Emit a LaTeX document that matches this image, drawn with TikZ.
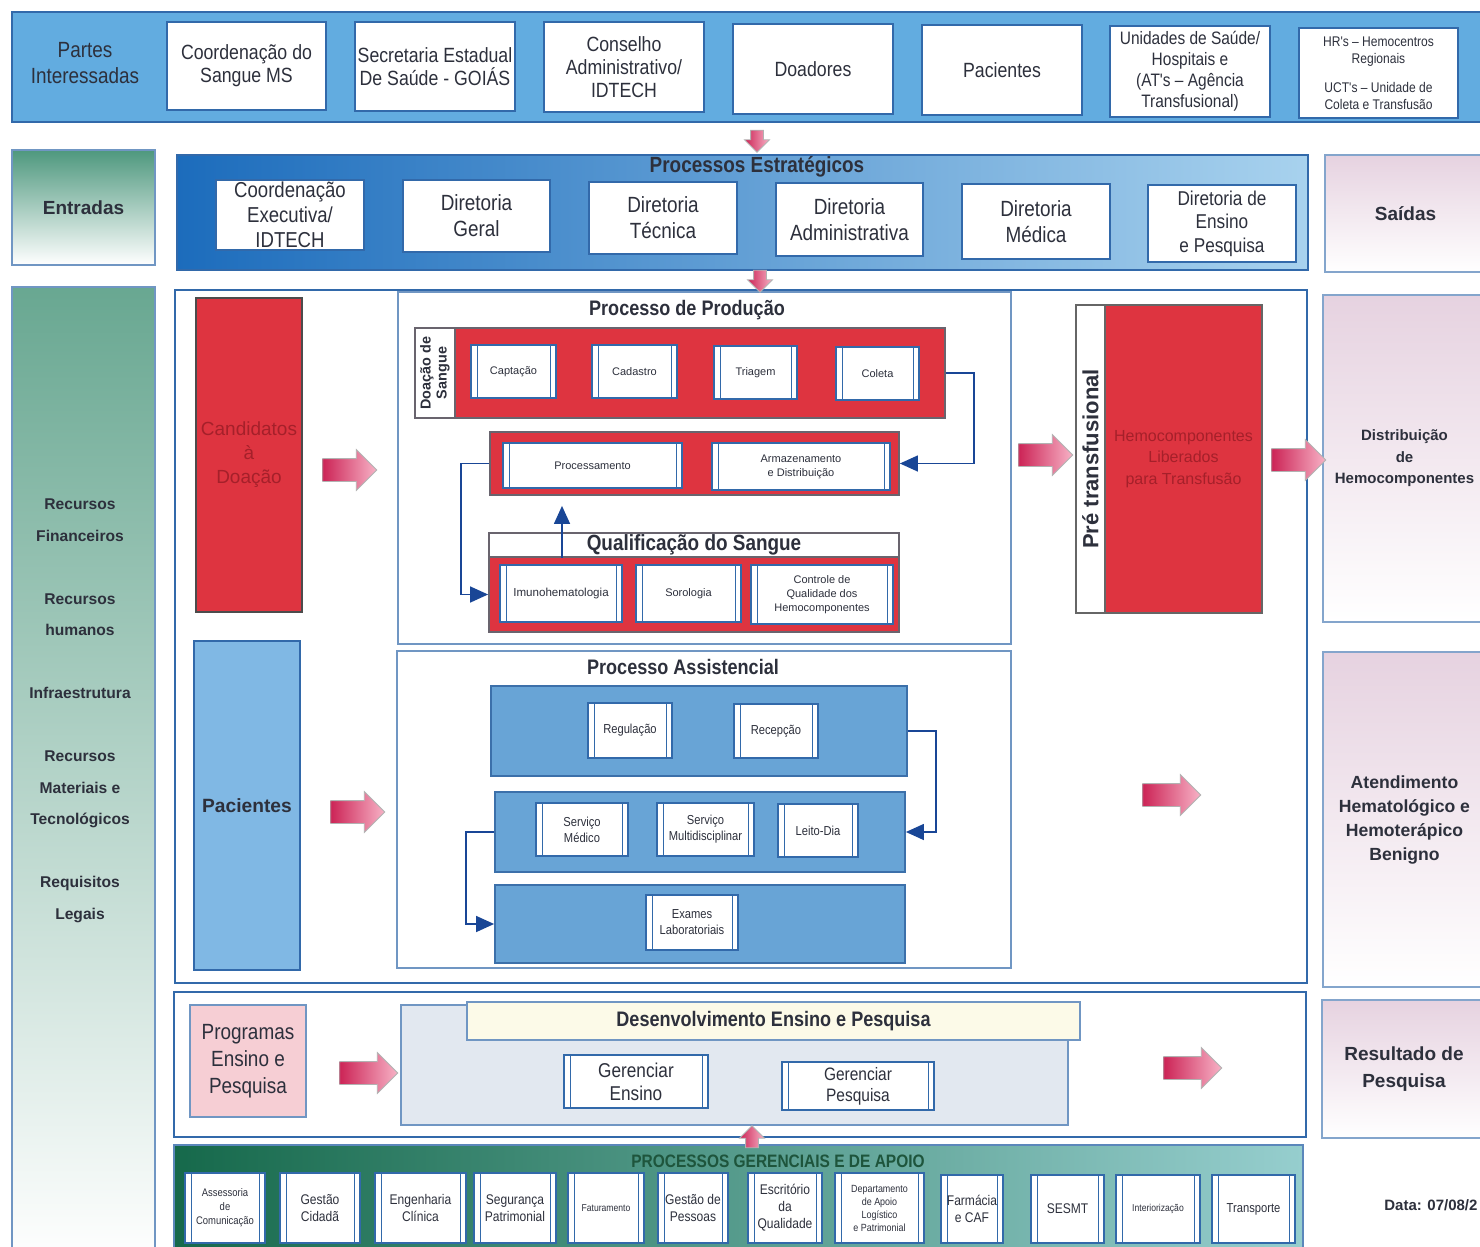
\documentclass[tikz,border=0pt]{standalone}
\usepackage{fontspec}
\setmainfont{Liberation Sans}
\newfontfamily\narrowfont[FakeStretch=0.86]{Liberation Sans}
\usepackage{xcolor}
\usepackage{tikz}
\usetikzlibrary{shapes,arrows,arrows.meta,positioning}

\definecolor{inktext}{RGB}{45,48,60}
\definecolor{edgeblue}{RGB}{50,105,170}
\definecolor{bandblue}{RGB}{98,172,224}
\definecolor{stratdark}{RGB}{28,108,188}
\definecolor{stratlight}{RGB}{168,210,238}
\definecolor{redfill}{RGB}{222,52,64}
\definecolor{redtext}{RGB}{165,32,42}
\definecolor{rededge}{RGB}{105,100,110}
\definecolor{bluefill}{RGB}{104,164,214}
\definecolor{blueedge}{RGB}{60,112,170}
\definecolor{patfill}{RGB}{128,184,228}
\definecolor{pinkdark}{RGB}{204,36,86}
\definecolor{pinklight}{RGB}{247,178,198}
\definecolor{entgreen}{RGB}{78,152,126}
\definecolor{outlav}{RGB}{230,210,224}
\definecolor{progpink}{RGB}{246,206,212}
\definecolor{devgray}{RGB}{226,232,240}
\definecolor{devcream}{RGB}{252,250,232}
\definecolor{mgmtdark}{RGB}{22,105,75}
\definecolor{mgmtlight}{RGB}{150,206,206}
\definecolor{mgmttext}{RGB}{30,85,60}
\definecolor{flowblue}{RGB}{25,70,150}

\newcommand{\setfs}[2]{\fontsize{#1}{#2}\selectfont}

\begin{document}
\begin{tikzpicture}[
        x=0.5pt, y=-0.5pt,
        every node/.style={inner sep=0pt, text=inktext},
        boxspan/.style args={#1/#2/#3/#4}{minimum width={(#3-#1)*0.5pt}, minimum height={(#4-#2)*0.5pt},
            at={({(#1+#3)/2},{(#2+#4)/2})}},
        band/.style={draw=edgeblue, line width=0.9pt},
        stakebox/.style={draw=edgeblue, line width=0.8pt, fill=white, align=center,
            font=\narrowfont\setfs{10.3}{11.5}},
        stratbox/.style={stakebox, font=\narrowfont\setfs{11}{13}},
        headline/.style={font=\narrowfont\bfseries\setfs{10.5}{12}},
        sidetext/.style={align=center, font=\bfseries\setfs{9.5}{11}},
        outbox/.style={draw=edgeblue!60, line width=0.8pt, top color=outlav, bottom color=white, align=center},
        procbox/.style={draw=edgeblue, line width=0.6pt, fill=white, align=center, font=\setfs{5.5}{7},
            path picture={\draw[edgeblue, line width=0.5pt]
                ([xshift=3pt]path picture bounding box.north west) -- ([xshift=3pt]path picture bounding box.south west)
                ([xshift=-3pt]path picture bounding box.north east) -- ([xshift=-3pt]path picture bounding box.south east);}},
        apoiobox/.style={procbox, font=\narrowfont\setfs{7}{8.5}},
        redband/.style={draw=rededge, line width=0.9pt, fill=redfill},
        blueband/.style={draw=blueedge, line width=0.9pt, fill=bluefill},
        flow/.style={draw=flowblue, line width=0.7pt, -{Triangle[length=9pt,width=8pt]}},
        pinkarrow/.style={single arrow, draw=gray!60, line width=0.4pt, left color=pinkdark, right color=pinklight,
            minimum height=27pt, inner xsep=0pt, inner ysep=5.5pt, single arrow head extend=4.5pt},
        smallarrow/.style={pinkarrow, minimum height=11pt, inner ysep=3pt, single arrow head extend=3pt}]

    \useasboundingbox (0,0) rectangle (1480,1247);
    \clip (0,0) rectangle (1480,1247);
    \fill[white] (0,0) rectangle (1480,1247);

    % partes interessadas
    \node[band, fill=bandblue, boxspan=12/12/1495/122] (partes) {};
    \node[align=center, font=\narrowfont\setfs{11}{13}] (partesT) at (85,63) {Partes\\Interessadas};
    \node[stakebox, boxspan=167/22/326/110] (coordMS) {Coordenação do\\Sangue MS};
    \node[stakebox, boxspan=355/22/515/111] (secGO) {Secretaria Estadual\\De Saúde - GOIÁS};
    \node[stakebox, boxspan=544/22/704/112] (conselho) {Conselho\\Administrativo/\\IDTECH};
    \node[stakebox, boxspan=733/24/893/114] (doadores) {Doadores};
    \node[stakebox, boxspan=922/25/1082/115] (pacP) {Pacientes};
    \node[stakebox, font=\narrowfont\setfs{9}{10.5}, boxspan=1110/26/1270/117] (unidades) {Unidades de Saúde/\\Hospitais e\\(AT's – Agência\\Transfusional)};
    \node[stakebox, font=\narrowfont\setfs{7}{8.5}, boxspan=1299/28/1458/118] (hrs) {HR's – Hemocentros\\Regionais\\[6pt]UCT's – Unidade de\\Coleta e Transfusão};

    % entradas / saidas
    \node[sidetext, draw=edgeblue!70, line width=0.8pt, top color=entgreen, bottom color=white, boxspan=12/150/155/265] (entradas) {Entradas};
    \node[outbox, sidetext, boxspan=1325/155/1486/272] (saidas) {Saídas};

    % processos estrategicos
    \node[band, left color=stratdark, right color=stratlight, boxspan=177/155/1308/270] (estrat) {};
    \node[headline, font=\narrowfont\bfseries\setfs{11}{13}] (estratT) at (757,167) {Processos Estratégicos};
    \node[stratbox, font=\narrowfont\setfs{10.8}{12.5}, boxspan=216/180/364/250] (coordEx) {Coordenação\\Executiva/\\IDTECH};
    \node[stratbox, boxspan=403/180/550/252] (dirGeral) {Diretoria\\Geral};
    \node[stratbox, boxspan=589/182/737/254] (dirTec) {Diretoria\\Técnica};
    \node[stratbox, boxspan=776/183/923/256] (dirAdm) {Diretoria\\Administrativa};
    \node[stratbox, boxspan=962/184/1110/259] (dirMed) {Diretoria\\Médica};
    \node[stratbox, font=\narrowfont\setfs{10}{11.75}, boxspan=1148/185/1296/262] (dirEns) {Diretoria de\\Ensino\\e Pesquisa};

    % recursos
    \node[draw=edgeblue!70, line width=0.8pt, top color=entgreen!85, middle color=entgreen!25, bottom color=white, boxspan=12/287/155/1265] (recursos) {};
    \node[align=center, font=\bfseries\setfs{7.8}{15.75}] (recursosT) at (80,711) {Recursos\\Financeiros\\[15.75pt]Recursos\\humanos\\[15.75pt]Infraestrutura\\[15.75pt]Recursos\\Materiais e\\Tecnológicos\\[15.75pt]Requisitos\\Legais};

    % nucleo
    \node[band, fill=white, boxspan=175/290/1307/983] (core) {};
    \node[redband, draw=black!70, boxspan=196/298/302/612, text=redtext, align=center, font=\setfs{9.5}{12}] (cand) {Candidatos\\à\\Doação};
    \node[draw=edgeblue, line width=0.8pt, fill=patfill, boxspan=194/641/300/970, font=\bfseries\setfs{9.6}{11}] (pac) {Pacientes};

    % producao
    \node[draw=edgeblue!70, line width=0.8pt, fill=white, boxspan=398/292/1011/644] (prod) {};
    \node[headline] (prodT) at (687,310) {Processo de Produção};
    \node[redband, boxspan=415/328/945/418] (doacao) {};
    \node[draw=rededge, line width=0.8pt, fill=white, boxspan=415/328/455/418] (doacaoStrip) {};
    \node[rotate=90, align=center, font=\bfseries\setfs{7.2}{8}] at (doacaoStrip.center) {Doação de\\Sangue};
    \node[procbox, boxspan=471/345/556/398] (captacao) {Captação};
    \node[procbox, boxspan=592/345/677/398] (cadastro) {Cadastro};
    \node[procbox, boxspan=714/346/797/399] (triagem) {Triagem};
    \node[procbox, boxspan=836/347/919/400] (coleta) {Coleta};
    \node[redband, boxspan=490/432/899/495] (prodB) {};
    \node[procbox, boxspan=503/443/682/488] (processamento) {Processamento};
    \node[procbox, boxspan=712/443/890/490] (armaz) {Armazenamento\\e Distribuição};
    \node[draw=rededge, line width=0.8pt, fill=white, boxspan=489/533/899/557, font=\narrowfont\bfseries\setfs{11}{12}] (qualT) {Qualificação do Sangue};
    \node[redband, boxspan=489/557/899/632] (qualB) {};
    \node[procbox, font=\setfs{5.8}{7}, boxspan=500/565/622/622] (imuno) {Imunohematologia};
    \node[procbox, boxspan=636/565/741/622] (sorologia) {Sorologia};
    \node[procbox, boxspan=751/565/893/624] (controle) {Controle de\\Qualidade dos\\Hemocomponentes};

    \draw[flow] (doacao.east) -- ++(28,0) |- (prodB.east);
    \draw[flow] (prodB.west) -- ++(-28,0) |- (qualB.west);
    \coordinate (upx) at (562,0);
    \draw[flow, shorten >=5pt] (qualT.south -| upx) -- (prodB.south -| upx);

    % assistencial
    \node[draw=edgeblue!70, line width=0.8pt, fill=white, boxspan=397/651/1011/968] (asst) {};
    \node[headline] (asstT) at (683,667) {Processo Assistencial};
    \node[blueband, boxspan=491/686/907/776] (asstA) {};
    \node[procbox, font=\narrowfont\setfs{6.5}{8}, boxspan=588/703/672/758] (regulacao) {Regulação};
    \node[procbox, font=\narrowfont\setfs{6.5}{8}, boxspan=734/704/818/758] (recepcao) {Recepção};
    \node[blueband, boxspan=495/792/905/872] (asstB) {};
    \node[procbox, font=\narrowfont\setfs{6.5}{8}, boxspan=536/803/628/856] (servMed) {Serviço\\Médico};
    \node[procbox, font=\narrowfont\setfs{6.5}{8}, boxspan=657/803/754/856] (servMult) {Serviço\\Multidisciplinar};
    \node[procbox, font=\narrowfont\setfs{6.5}{8}, boxspan=778/804/858/857] (leito) {Leito-Dia};
    \node[blueband, boxspan=495/885/905/963] (asstC) {};
    \node[procbox, font=\narrowfont\setfs{6.5}{8}, boxspan=646/895/738/950] (exames) {Exames\\Laboratoriais};

    \draw[flow] (asstA.east) -- ++(28,0) |- (asstB.east);
    \draw[flow] (asstB.west) -- ++(-28,0) |- (asstC.west);

    % pre transfusional
    \node[draw=black!60, line width=0.8pt, fill=white, boxspan=1076/305/1105/613] (preStrip) {};
    \node[redband, draw=black!60, boxspan=1105/305/1262/613, text=redtext, align=center, font=\setfs{8}{10.75}] (liberados) {Hemocomponentes\\Liberados\\para Transfusão};
    \node[rotate=90, font=\bfseries\setfs{11}{13}] (preT) at (preStrip.center) {Pré transfusional};

    % saidas
    \node[outbox, font=\bfseries\setfs{7.5}{10.75}, boxspan=1323/295/1486/622] (distrib) {Distribuição\\de\\Hemocomponentes};
    \node[outbox, font=\bfseries\setfs{8.8}{12}, boxspan=1323/652/1486/987] (atend) {Atendimento\\Hematológico e\\Hemoterápico\\Benigno};
    \node[outbox, font=\bfseries\setfs{9.5}{13.5}, boxspan=1322/1000/1486/1138] (resultado) {Resultado de\\Pesquisa};

    % ensino e pesquisa
    \node[band, fill=white, boxspan=174/992/1306/1137] (ensino) {};
    \node[draw=edgeblue!70, line width=0.8pt, fill=progpink, boxspan=190/1005/306/1117, align=center, font=\narrowfont\setfs{11}{13.5}] (programas) {Programas\\Ensino e\\Pesquisa};
    \node[draw=edgeblue!70, line width=0.8pt, fill=devgray, boxspan=401/1005/1068/1125] (devBox) {};
    \node[draw=edgeblue!70, line width=0.8pt, fill=devcream, boxspan=467/1002/1080/1040, headline] (devT) {Desenvolvimento Ensino e Pesquisa};
    \node[procbox, font=\narrowfont\setfs{10}{11.5}, boxspan=564/1055/708/1108] (gerEnsino) {Gerenciar\\Ensino};
    \node[procbox, font=\narrowfont\setfs{9}{10.5}, boxspan=782/1062/934/1110] (gerPesquisa) {Gerenciar\\Pesquisa};

    % processos gerenciais e de apoio
    \node[band, draw=edgeblue!80, left color=mgmtdark, right color=mgmtlight, boxspan=174/1145/1303/1265] (apoio) {};
    \node[font=\narrowfont\bfseries\setfs{9}{10}, text=mgmttext] (apoioT) at (778,1161) {PROCESSOS GERENCIAIS E DE APOIO};
    \node[apoiobox, font=\narrowfont\setfs{5.5}{7}, boxspan=185/1173/265/1243] (assessoria) {Assessoria\\de\\Comunicação};
    \node[apoiobox, boxspan=280/1173/360/1243] (gestCid) {Gestão\\Cidadã};
    \node[apoiobox, boxspan=375/1173/466/1243] (engClin) {Engenharia\\Clínica};
    \node[apoiobox, boxspan=474/1173/556/1243] (seguranca) {Segurança\\Patrimonial};
    \node[apoiobox, font=\narrowfont\setfs{5}{6}, boxspan=568/1173/644/1243] (faturamento) {Faturamento};
    \node[apoiobox, boxspan=658/1173/728/1243] (gestPess) {Gestão de\\Pessoas};
    \node[apoiobox, boxspan=748/1173/822/1243] (escritorio) {Escritório\\da\\Qualidade};
    \node[apoiobox, font=\narrowfont\setfs{5.2}{6.5}, boxspan=835/1173/924/1243] (depApoio) {Departamento\\de Apoio\\Logístico\\e Patrimonial};
    \node[apoiobox, boxspan=941/1175/1003/1243] (farmacia) {Farmácia\\e CAF};
    \node[apoiobox, boxspan=1031/1175/1104/1243] (sesmt) {SESMT};
    \node[apoiobox, font=\narrowfont\setfs{5}{6}, boxspan=1116/1175/1200/1243] (interior) {Interiorização};
    \node[apoiobox, font=\narrowfont\setfs{6.5}{8}, boxspan=1212/1175/1295/1243] (transporte) {Transporte};

    \node[anchor=west, font=\bfseries\setfs{7.5}{9}] (data) at (1384,1205) {Data: 07/08/2};

    % setas de bloco
    \node[smallarrow, rotate=-90] (toEstrat) at (757,138) {};
    \node[smallarrow, rotate=-90] (toCore) at (760,278) {};
    \node[smallarrow, rotate=90] (toEnsino) at (752,1140) {};
    \node[pinkarrow] (toProd) at (344,470) {};
    \node[pinkarrow] (toAsst) at (352,812) {};
    \node[pinkarrow] (toPre) at (1040,455) {};
    \node[pinkarrow] (toDist) at (1293,460) {};
    \node[pinkarrow, minimum height=29pt] (toAtend) at (1166,795) {};
    \node[pinkarrow, minimum height=29pt] (toDev) at (363,1073) {};
    \node[pinkarrow, minimum height=29pt] (toResult) at (1187,1068) {};
\end{tikzpicture}
\end{document}
